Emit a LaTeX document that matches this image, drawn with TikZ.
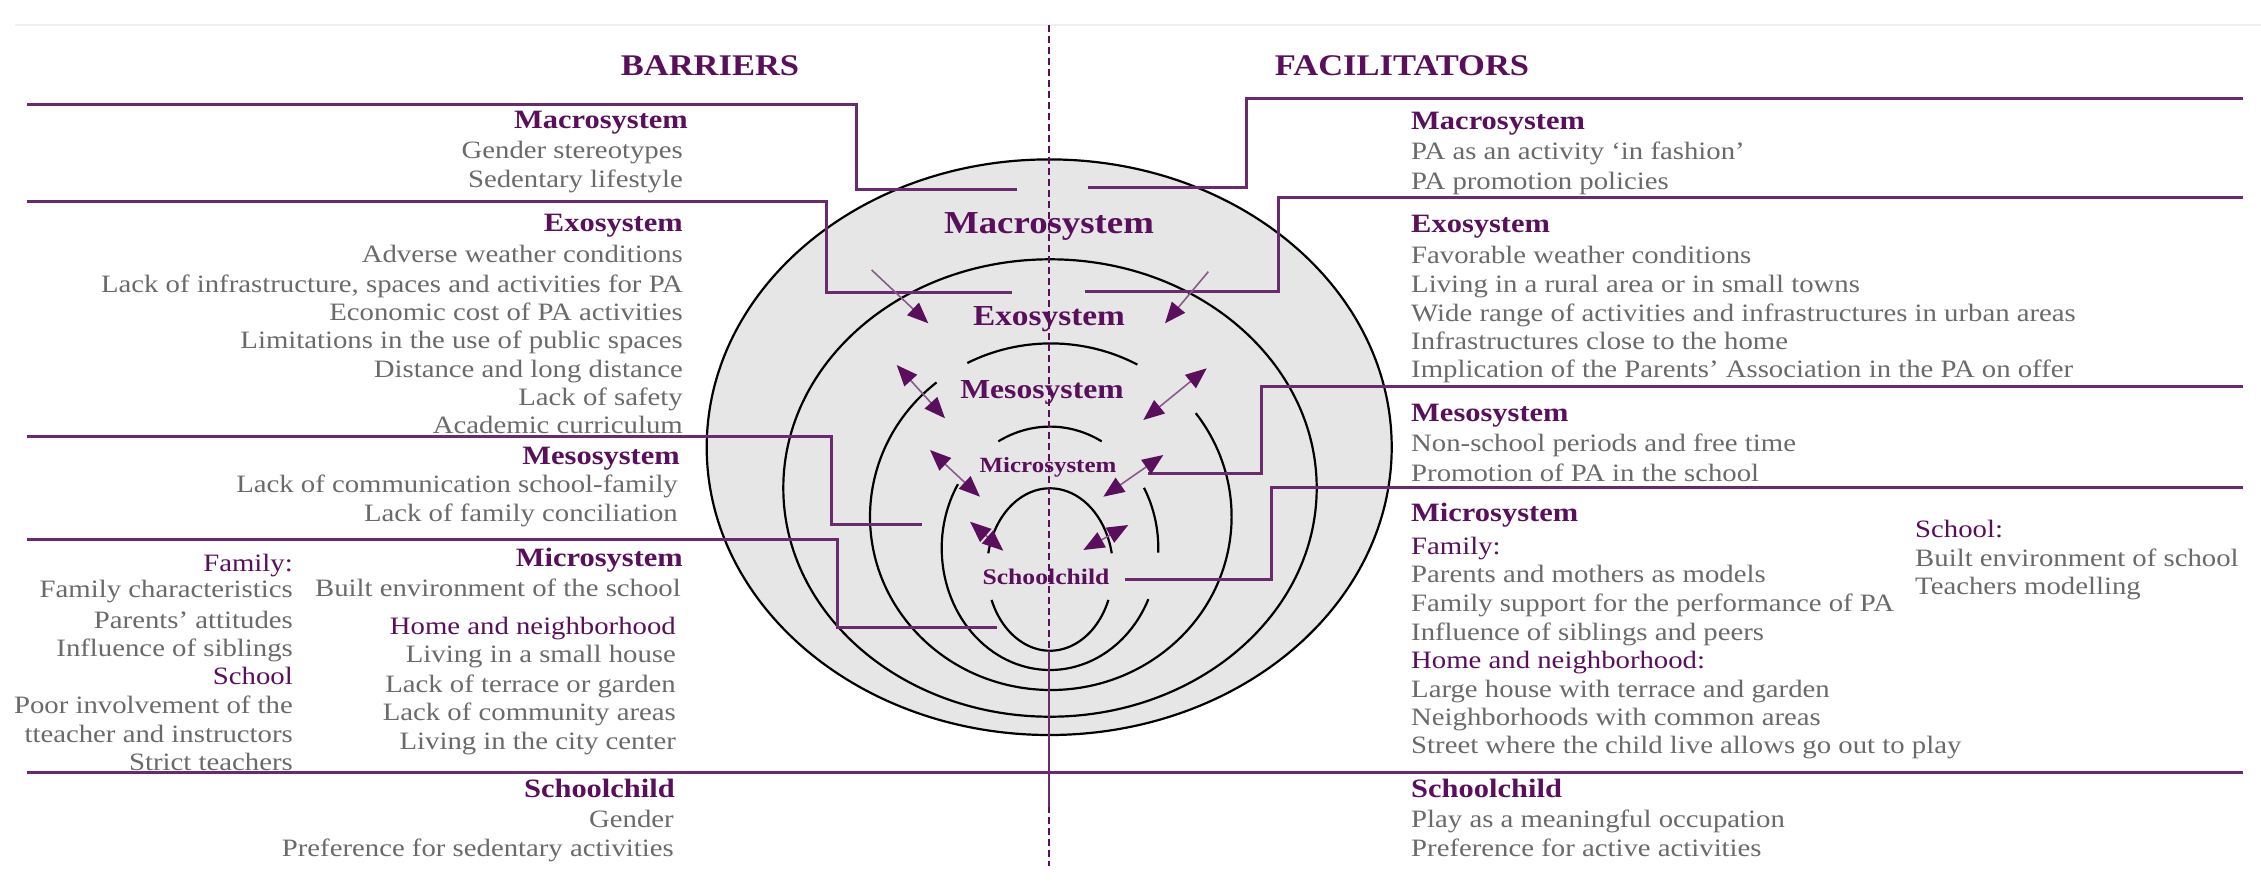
\documentclass[tikz,border=0pt]{standalone}
\usepackage{fontspec}
\setmainfont{Liberation Serif}[FakeStretch=1.15]
\usetikzlibrary{arrows.meta}
\definecolor{hpur}{HTML}{5A0F5C}
\definecolor{lpur}{HTML}{6A2A6E}
\definecolor{apur}{HTML}{8A5A8C}
\definecolor{tgrey}{HTML}{6A6A6A}
\definecolor{efill}{HTML}{E6E6E6}
\newcommand{\ringarc}[5]{\draw[ring] ([shift={(#4:#2 and #3)}]#1) arc[start angle=#4, end angle=#5, x radius=#2, y radius=#3];}
\tikzset{
  item/.style={text=tgrey, font=\fontsize{25}{30}\selectfont, inner sep=0pt},
  subh/.style={text=hpur, font=\fontsize{25}{30}\selectfont, inner sep=0pt},
  head/.style={text=hpur, font=\bfseries\fontsize{26.5}{30}\selectfont, inner sep=0pt},
  ttl/.style={text=hpur, font=\bfseries\fontsize{30}{34}\selectfont, inner sep=0pt},
  lab/.style={text=hpur, font=\bfseries\fontsize{#1}{#1}\selectfont, inner sep=0pt, anchor=base},
  ring/.style={draw=black, line width=2.2pt},
  conn/.style={draw=lpur, line width=3pt},
  tipA/.style={-{Triangle[length=21pt,width=17pt,color=hpur]}, draw=apur, line width=1.6pt},
  tipB/.style={{Triangle[length=21pt,width=17pt,color=hpur]}-{Triangle[length=21pt,width=17pt,color=hpur]}, draw=apur, line width=1.6pt},
  lw/.style={anchor=mid west}, le/.style={anchor=mid east}
}
\begin{document}
\begin{tikzpicture}[x=1pt,y=-1pt]
\useasboundingbox[fill=white] (0,0) rectangle (2261,884);
% faint top rule
\draw[gray!12, line width=1.5pt] (15,25) -- (2261,25);
% ellipse centres
\coordinate (cOut) at (1049.2,447.2);
\coordinate (cExo) at (1050,488);
\coordinate (cMes) at (1050.8,516.7);
\coordinate (cMic) at (1050,548.3);
\coordinate (cSch) at (1050,569.5);
% rings
\fill[efill] (cOut) ellipse[x radius=342.5, y radius=287.8];
\draw[ring] (cOut) ellipse[x radius=342.5, y radius=287.8];
\draw[ring] (cExo) ellipse[x radius=266.7, y radius=228.7];
\ringarc{cMes}{180.8}{173.3}{242.5}{298.6}
\ringarc{cMes}{180.8}{173.3}{230.8}{-36.7}
\ringarc{cMic}{108.3}{121.7}{241.5}{298.5}
\ringarc{cMic}{108.3}{121.7}{211.8}{24.7}
\ringarc{cMic}{108.3}{121.7}{-29.8}{2}
\ringarc{cSch}{63}{81.2}{191.5}{348.5}
\ringarc{cSch}{63}{81.2}{158}{22}
% centre line
\coordinate (vt) at (1049,25);
\coordinate (vb) at (1049,866);
\coordinate (vs1) at (1049,651);
\coordinate (vs2) at (1049,807);
\draw[hpur, line width=2pt, dash pattern=on 7pt off 4pt] (vt) -- (vb);
\draw[lpur, line width=2.5pt] (vs1) -- (vs2);
% connectors left
\coordinate (a1) at (27,104); \coordinate (a2) at (856.7,104); \coordinate (a3) at (856.7,189.3); \coordinate (a4) at (1016.7,189.3);
\draw[conn] (a1) -- (a2) -- (a3) -- (a4);
\coordinate (b1) at (27,201.7); \coordinate (b2) at (826,201.7); \coordinate (b3) at (826,292.7); \coordinate (b4) at (1011.7,292.7);
\draw[conn] (b1) -- (b2) -- (b3) -- (b4);
\coordinate (c1) at (27,436.7); \coordinate (c2) at (831.7,436.7); \coordinate (c3) at (831.7,524.3); \coordinate (c4) at (921.7,524.3);
\draw[conn] (c1) -- (c2) -- (c3) -- (c4);
\coordinate (d1) at (27,539); \coordinate (d2) at (837.7,539); \coordinate (d3) at (837.7,627.3); \coordinate (d4) at (996.7,627.3);
\draw[conn] (d1) -- (d2) -- (d3) -- (d4);
% connectors right
\coordinate (e1) at (2243,98); \coordinate (e2) at (1246.7,98); \coordinate (e3) at (1246.7,187.7); \coordinate (e4) at (1088.3,187.7);
\draw[conn] (e1) -- (e2) -- (e3) -- (e4);
\coordinate (f1) at (2243,197.3); \coordinate (f2) at (1278.3,197.3); \coordinate (f3) at (1278.3,291.7); \coordinate (f4) at (1085,291.7);
\draw[conn] (f1) -- (f2) -- (f3) -- (f4);
\coordinate (g1) at (2243,386.7); \coordinate (g2) at (1261.7,386.7); \coordinate (g3) at (1261.7,473.3); \coordinate (g4) at (1148.3,473.3);
\draw[conn] (g1) -- (g2) -- (g3) -- (g4);
\coordinate (h1) at (2243,487.3); \coordinate (h2) at (1271.7,487.3); \coordinate (h3) at (1271.7,579.3); \coordinate (h4) at (1125,579.3);
\draw[conn] (h1) -- (h2) -- (h3) -- (h4);
\coordinate (s1) at (27,772); \coordinate (s2) at (2243,772);
\draw[conn] (s1) -- (s2);
% arrows
\coordinate (x1) at (871.7,270); \coordinate (x2) at (928.3,323.3);
\coordinate (x3) at (1208.3,271.7); \coordinate (x4) at (1165,323.3);
\draw[tipA] (x1) -- (x2);
\draw[tipA] (x3) -- (x4);
\coordinate (m1) at (896.7,365); \coordinate (m2) at (945,418.3);
\coordinate (m3) at (1206.7,368.3); \coordinate (m4) at (1143.3,420);
\draw[tipB] (m1) -- (m2);
\draw[tipB] (m3) -- (m4);
\coordinate (n1) at (930,450); \coordinate (n2) at (980,496.7);
\coordinate (n3) at (1163.3,455); \coordinate (n4) at (1103.3,496.7);
\draw[tipB] (n1) -- (n2);
\draw[tipB] (n3) -- (n4);
\coordinate (p1) at (970,521.7); \coordinate (p2) at (1003.3,550.7);
\coordinate (p3) at (1128.3,525); \coordinate (p4) at (1083.3,550);
\draw[tipB] (p1) -- (p2);
\draw[tipB] (p3) -- (p4);
% ring labels
\node[lab=32] (rMac) at (1049,233) {Macrosystem};
\node[lab=29] (rExo) at (1049,325) {Exosystem};
\node[lab=27.5] (rMes) at (1042,398) {Mesosystem};
\node[lab=21.7] (rMic) at (1048,472) {Microsystem};
\node[lab=22.3] (rSch) at (1046,584) {Schoolchild};
% titles
\node[ttl] (tB) at (710,66) {BARRIERS};
\node[ttl] (tF) at (1402,66) {FACILITATORS};
\begin{scope}[yshift=-7pt]
% left column
\node[head,le] (L1) at (688,119) {Macrosystem};
\node[item,le] (L2) at (683,149) {Gender stereotypes};
\node[item,le] (L3) at (683,178) {Sedentary lifestyle};
\node[head,le] (L4) at (683,222) {Exosystem};
\node[item,le] (L5) at (683,253) {Adverse weather conditions};
\node[item,le] (L6) at (683,283) {Lack of infrastructure, spaces and activities for PA};
\node[item,le] (L7) at (683,311) {Economic cost of PA activities};
\node[item,le] (L8) at (683,339) {Limitations in the use of public spaces};
\node[item,le] (L9) at (683,368) {Distance and long distance};
\node[item,le] (L10) at (683,396) {Lack of safety};
\node[item,le] (L11) at (683,424) {Academic curriculum};
\node[head,le] (L12) at (680,455) {Mesosystem};
\node[item,le] (L13) at (678,483) {Lack of communication school-family};
\node[item,le] (L14) at (678,512) {Lack of family conciliation};
\node[head,le] (L15) at (683,557) {Microsystem};
\node[item,le] (L16) at (681,587) {Built environment of the school};
\node[subh,le] (L17) at (676,625) {Home and neighborhood};
\node[item,le] (L18) at (676,653) {Living in a small house};
\node[item,le] (L19) at (676,683) {Lack of terrace or garden};
\node[item,le] (L20) at (676,711) {Lack of community areas};
\node[item,le] (L21) at (676,740) {Living in the city center};
\node[subh,le] (K1) at (293,562) {Family:};
\node[item,le] (K2) at (293,588) {Family characteristics};
\node[item,le] (K3) at (293,619) {Parents’ attitudes};
\node[item,le] (K4) at (293,647) {Influence of siblings};
\node[subh,le] (K5) at (293,675) {School};
\node[item,le] (K6) at (293,704) {Poor involvement of the};
\node[item,le] (K7) at (293,733) {tteacher and instructors};
\node[item,le] (K8) at (293,761) {Strict teachers};
\node[head,le] (L22) at (675,788) {Schoolchild};
\node[item,le] (L23) at (674,818) {Gender};
\node[item,le] (L24) at (674,847) {Preference for sedentary activities};
% right column
\node[head,lw] (R1) at (1411,120) {Macrosystem};
\node[item,lw] (R2) at (1411,150) {PA as an activity ‘in fashion’};
\node[item,lw] (R3) at (1411,180) {PA promotion policies};
\node[head,lw] (R4) at (1411,223) {Exosystem};
\node[item,lw] (R5) at (1411,254) {Favorable weather conditions};
\node[item,lw] (R6) at (1411,283) {Living in a rural area or in small towns};
\node[item,lw] (R7) at (1411,312) {Wide range of activities and infrastructures in urban areas};
\node[item,lw] (R8) at (1411,340) {Infrastructures close to the home};
\node[item,lw] (R9) at (1411,368) {Implication of the Parents’ Association in the PA on offer};
\node[head,lw] (R10) at (1411,412) {Mesosystem};
\node[item,lw] (R11) at (1411,442) {Non-school periods and free time};
\node[item,lw] (R12) at (1411,472) {Promotion of PA in the school};
\node[head,lw] (R13) at (1411,512) {Microsystem};
\node[subh,lw] (R14) at (1411,545) {Family:};
\node[item,lw] (R15) at (1411,573) {Parents and mothers as models};
\node[item,lw] (R16) at (1411,602) {Family support for the performance of PA};
\node[item,lw] (R17) at (1411,631) {Influence of siblings and peers};
\node[subh,lw] (R18) at (1411,659) {Home and neighborhood:};
\node[item,lw] (R19) at (1411,688) {Large house with terrace and garden};
\node[item,lw] (R20) at (1411,716) {Neighborhoods with common areas};
\node[item,lw] (R21) at (1411,744) {Street where the child live allows go out to play};
\node[subh,lw] (Q1) at (1915,528) {School:};
\node[item,lw] (Q2) at (1915,557) {Built environment of school};
\node[item,lw] (Q3) at (1915,585) {Teachers modelling};
\node[head,lw] (R22) at (1411,788) {Schoolchild};
\node[item,lw] (R23) at (1411,818) {Play as a meaningful occupation};
\node[item,lw] (R24) at (1411,847) {Preference for active activities};
\end{scope}
\end{tikzpicture}
\end{document}
